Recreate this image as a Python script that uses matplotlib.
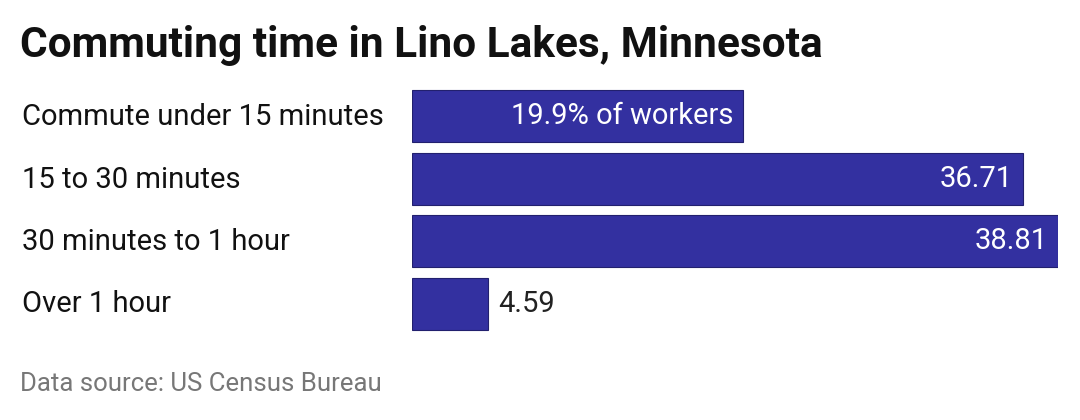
import matplotlib.pyplot as plt

categories = ['Commute under 15 minutes', '15 to 30 minutes', '30 minutes to 1 hour', 'Over 1 hour']
values = [19.9, 36.71, 38.81, 4.59]
labels = ['19.9% of workers', '36.71', '38.81', '4.59']

plt.rcParams['font.family'] = ['Roboto', 'DejaVu Sans']

fig = plt.figure(figsize=(10.8, 4.2), dpi=100)
ax = fig.add_axes([412 / 1080, (420 - 335) / 420, (1058 - 412) / 1080, 250 / 420])
ypos = range(len(values))
ax.barh(ypos, values, height=0.83, color='#3330a0', edgecolor='#22206e', linewidth=0.8)
ax.set_xlim(0, max(values))
ax.set_ylim(3.5, -0.5)
ax.axis('off')

for y, v, lab, cat in zip(ypos, values, labels, categories):
    if v > 10:
        ax.text(v - 0.6, y, lab, color='white', fontsize=21, ha='right', va='center')
    else:
        ax.text(v + 0.6, y, lab, color='#222222', fontsize=21, ha='left', va='center')
    fig.text(22 / 1080, 1 - (117 + 62.5 * y) / 420, cat, fontsize=21, ha='left', va='center', color='#111111')

fig.text(20 / 1080, 1 - 46 / 420, 'Commuting time in Lino Lakes, Minnesota', fontsize=30.5,
         fontweight='bold', ha='left', va='center', color='#111111')
fig.text(20 / 1080, 1 - 384 / 420, 'Data source: US Census Bureau', fontsize=18.5,
         ha='left', va='center', color='#777777')

fig.savefig('out.png', dpi=100)
